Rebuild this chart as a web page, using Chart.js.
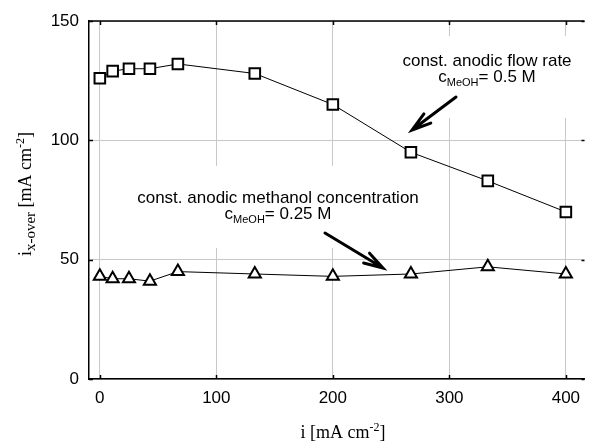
<!DOCTYPE html>
<html>
<head>
<meta charset="utf-8">
<script src="https://cdn.jsdelivr.net/npm/chart.js@4/dist/chart.umd.min.js"></script>
<style>
  body { margin: 0; background: #fff; }
  #wrap { width: 594px; height: 441px; }
</style>
</head>
<body>
<div id="wrap"><canvas id="myChart" width="594" height="441"></canvas></div>
<script>
// current density i [mA cm-2]
const currentDensity = [0, 11, 25, 43, 67, 133, 200, 267, 333, 400];
// crossover current, constant anodic flow rate (c = 0.5 M)
const crossoverFlow = [126, 129, 130, 130, 132, 128, 115, 95, 83, 70];
// crossover current, constant anodic methanol concentration (c = 0.25 M)
const crossoverConc = [43, 42, 42, 41, 45, 44, 43, 44, 47, 44];
const xTicks = [0, 100, 200, 300, 400];
const yTicks = [0, 50, 100, 150];

const sans = "'Liberation Sans', Arial, sans-serif";
const serif = "'Liberation Serif', 'Times New Roman', serif";

function toPoints(ys) {
    return currentDensity.map((x, i) => ({ x: x, y: ys[i] }));
}

// draw a run of text pieces [text, size, baselineShift], starting at x
function drawPieces(ctx, pieces, x, y, family) {
    pieces.forEach(p => {
        ctx.font = p[1] + 'px ' + family;
        ctx.fillText(p[0], x, y + p[2]);
        x += ctx.measureText(p[0]).width;
    });
}
function piecesWidth(ctx, pieces, family) {
    let w = 0;
    pieces.forEach(p => {
        ctx.font = p[1] + 'px ' + family;
        w += ctx.measureText(p[0]).width;
    });
    return w;
}

function arrow(ctx, x1, y1, x2, y2) {
    const a = Math.atan2(y2 - y1, x2 - x1);
    const len = 20, spread = 0.29;
    ctx.beginPath();
    ctx.moveTo(x1, y1);
    ctx.lineTo(x2, y2);
    ctx.moveTo(x2 - len * Math.cos(a - spread), y2 - len * Math.sin(a - spread));
    ctx.lineTo(x2, y2);
    ctx.lineTo(x2 - len * Math.cos(a + spread), y2 - len * Math.sin(a + spread));
    ctx.stroke();
}

const decorations = {
    id: 'decorations',
    beforeDatasetsDraw(chart) {
        // white backing behind the annotation texts hides the grid there
        const ctx = chart.ctx;
        ctx.save();
        ctx.fillStyle = '#fff';
        ctx.fillRect(396, 36, 194, 82);
        ctx.fillRect(128, 166, 300, 82);
        ctx.restore();
    },
    afterDraw(chart) {
        const ctx = chart.ctx;
        const { left, right, top, bottom } = chart.chartArea;
        const xs = chart.scales.x, ys = chart.scales.y;
        ctx.save();
        ctx.strokeStyle = '#000';
        ctx.fillStyle = '#000';

        // top frame line
        ctx.lineWidth = 1.5;
        ctx.beginPath();
        ctx.moveTo(left, top);
        ctx.lineTo(right, top);
        ctx.stroke();

        // inward tick marks
        ctx.lineWidth = 1.5;
        ctx.beginPath();
        xTicks.forEach(v => {
            const px = Math.round(xs.getPixelForValue(v)) + 0.5;
            ctx.moveTo(px, bottom); ctx.lineTo(px, bottom - 4);
            ctx.moveTo(px, top); ctx.lineTo(px, top + 4);
        });
        yTicks.forEach(v => {
            const py = Math.round(ys.getPixelForValue(v)) + 0.5;
            ctx.moveTo(left, py); ctx.lineTo(left + 4, py);
            ctx.moveTo(right, py); ctx.lineTo(right - 3, py);
        });
        ctx.stroke();

        // annotations
        ctx.textBaseline = 'alphabetic';
        ctx.textAlign = 'left';
        const notes = [
            { cx: 487, y1: 66, y2: 82, line2: [['c', 17, 0], ['MeOH', 11, 4], ['= 0.5 M', 17, 0]],
              text: 'const. anodic flow rate' },
            { cx: 278, y1: 203, y2: 219, line2: [['c', 17, 0], ['MeOH', 11, 4], ['= 0.25 M', 17, 0]],
              text: 'const. anodic methanol concentration' }
        ];
        notes.forEach(n => {
            ctx.font = '17px ' + sans;
            const w1 = ctx.measureText(n.text).width;
            ctx.fillText(n.text, n.cx - w1 / 2, n.y1);
            const w2 = piecesWidth(ctx, n.line2, sans);
            drawPieces(ctx, n.line2, n.cx - w2 / 2, n.y2, sans);
        });

        ctx.lineWidth = 3;
        ctx.lineCap = 'round';
        arrow(ctx, 456, 97, 412, 130);
        arrow(ctx, 325, 233, 383, 268);

        // x axis title
        const xt = [['i [mA cm', 18, 0], ['-2', 12, -7], [']', 18, 0]];
        const xw = piecesWidth(ctx, xt, serif);
        drawPieces(ctx, xt, 343 - xw / 2, 438, serif);

        // y axis title, rotated
        const yt = [['i', 18, 0], ['x-over', 15, 4], [' [mA cm', 18, 0], ['-2', 12, -7], [']', 18, 0]];
        const yw = piecesWidth(ctx, yt, serif);
        ctx.translate(31, 194);
        ctx.rotate(-Math.PI / 2);
        drawPieces(ctx, yt, -yw / 2, 0, serif);
        ctx.restore();
    }
};

const data = {
    datasets: [
        {
            label: 'const. anodic flow rate',
            data: toPoints(crossoverFlow),
            showLine: true,
            borderColor: '#000',
            borderWidth: 1,
            pointStyle: 'rect',
            pointRadius: 7.5,
            pointBorderWidth: 2,
            pointBackgroundColor: '#fff',
            pointBorderColor: '#000'
        },
        {
            label: 'const. anodic methanol concentration',
            data: toPoints(crossoverConc),
            showLine: true,
            borderColor: '#000',
            borderWidth: 1,
            pointStyle: 'triangle',
            pointRadius: 7,
            pointBorderWidth: 2,
            pointBackgroundColor: '#fff',
            pointBorderColor: '#000'
        }
    ]
};

const config = {
    type: 'scatter',
    data: data,
    options: {
        responsive: false,
        animation: false,
        layout: { padding: { top: 21, right: 0, left: 0, bottom: 0 } },
        plugins: {
            legend: { display: false },
            tooltip: { enabled: false }
        },
        scales: {
            x: {
                type: 'linear',
                min: -9.3,
                max: 416,
                afterFit: s => { s.height = 62; },
                ticks: {
                    stepSize: 100,
                    includeBounds: false,
                    padding: 9,
                    color: '#000',
                    font: { family: sans, size: 17 }
                },
                grid: { color: '#c8c8c8', lineWidth: 1, drawTicks: false },
                border: { color: '#000', width: 1.5 }
            },
            y: {
                min: 0,
                max: 150,
                afterFit: s => { s.width = 89; },
                ticks: {
                    stepSize: 50,
                    padding: 10,
                    color: '#000',
                    font: { family: sans, size: 17 }
                },
                grid: { color: '#c8c8c8', lineWidth: 1, drawTicks: false },
                border: { color: '#000', width: 1.5 }
            }
        }
    },
    plugins: [decorations]
};

new Chart(document.getElementById('myChart').getContext('2d'), config);
</script>
</body>
</html>
